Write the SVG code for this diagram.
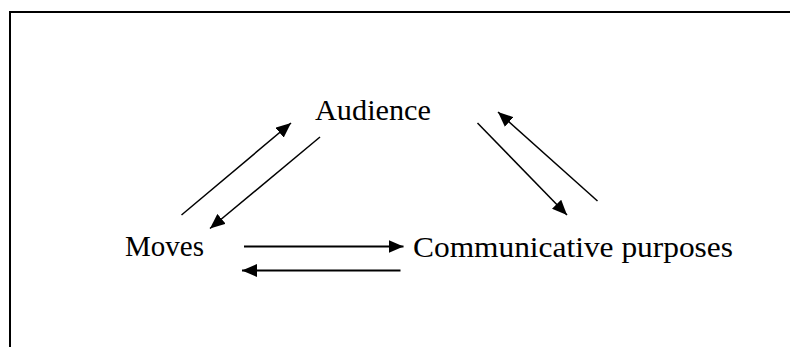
<svg xmlns="http://www.w3.org/2000/svg" width="790" height="347" viewBox="0 0 790 347">
<style>
.lbl{font-family:"Liberation Serif","Times New Roman",serif;font-size:30px;fill:#000}
.c{stroke:#000;fill:none}
.d{stroke-width:1.5}
.h{stroke-width:2}
</style>
<defs>
<marker id="ah" markerUnits="userSpaceOnUse" markerWidth="15" markerHeight="13" refX="15" refY="6.5" orient="auto" viewBox="0 0 15 13">
<path d="M0,0 L15,6.5 L0,13 Z" fill="#000"/>
</marker>
</defs>
<rect width="790" height="347" fill="#fff"/>
<path d="M10,347 V12 H790" fill="none" stroke="#000" stroke-width="2"/>
<g id="audience"><text class="lbl" x="315" y="120" textLength="116" lengthAdjust="spacingAndGlyphs">Audience</text></g>
<g id="moves"><text class="lbl" x="125" y="256" textLength="79" lengthAdjust="spacingAndGlyphs">Moves</text></g>
<g id="communicative"><text class="lbl" x="413" y="256.5" textLength="320" lengthAdjust="spacingAndGlyphs">Communicative purposes</text></g>
<g id="connectors">
<line class="c d" x1="181.5" y1="215" x2="291" y2="123" marker-end="url(#ah)"/>
<line class="c d" x1="320" y1="137" x2="210" y2="228.5" marker-end="url(#ah)"/>
<line class="c d" x1="477.5" y1="123" x2="567" y2="215" marker-end="url(#ah)"/>
<line class="c d" x1="597.5" y1="201" x2="498" y2="112" marker-end="url(#ah)"/>
<line class="c h" x1="244" y1="246.5" x2="403.5" y2="246.5" marker-end="url(#ah)"/>
<line class="c h" x1="400.5" y1="270.5" x2="242" y2="270.5" marker-end="url(#ah)"/>
</g>
</svg>
